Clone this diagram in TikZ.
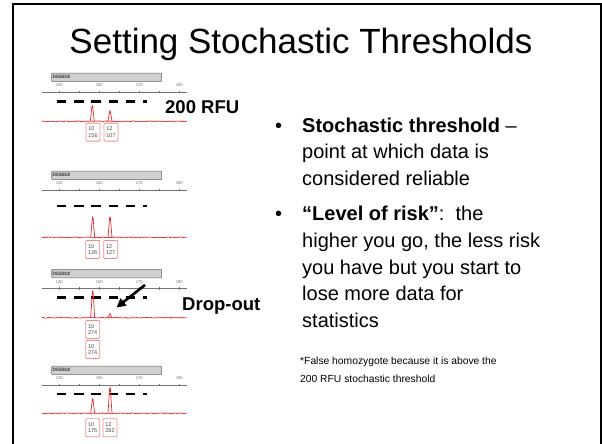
\documentclass[tikz,border=0pt]{standalone}
\usepackage{fontspec}
\setmainfont{Liberation Sans}
\usetikzlibrary{arrows.meta}

\definecolor{tracered}{RGB}{230,45,45}
\definecolor{boxred}{RGB}{240,140,140}
\definecolor{bargray}{RGB}{208,208,208}

\tikzset{
  trace/.style={tracered, line width=0.7pt, line join=round},
  threshold/.style={line width=2.4pt, dash pattern=on 9.5pt off 7.8pt},
  locus/.style={draw=black!60, fill=bargray, line width=0.5pt, rounded corners=0.8pt},
  sizes/.style={font=\fontsize{4.2}{5}\selectfont, text=black!55, inner sep=0pt},
  allele/.style={draw=boxred, line width=0.8pt, rounded corners=1pt, fill=white,
    inner sep=0.8pt, minimum width=14pt, minimum height=18pt, align=left,
    anchor=north, font=\fontsize{5.5}{6.5}\selectfont, text=black!70},
  item/.style={anchor=base west, inner sep=0pt, align=left,
    font=\fontsize{20}{26.8}\selectfont},
  callout/.style={anchor=base west, inner sep=0pt, font=\fontsize{18.5}{20}\selectfont\bfseries},
}

% one peak of the trace: x, baseline, top
\newcommand{\spike}[3]{\draw [trace] ({#1-2},{#2}) -- ({#1-0.4},{#3+1.5}) -- ({#1},{#3})
  -- ({#1+0.4},{#3+1.5}) -- ({#1+2},{#2});}

\begin{document}
\begin{tikzpicture}[x=1pt,y=-1pt]
    \useasboundingbox (0,0) rectangle (602,444);
    \pgfmathsetseed{7}

    % Slide frame
    \draw [line width=2pt] (13,444) -- (13,4) -- (601,4) -- (601,444);

    % Title
    \node [inner sep=0pt, anchor=base, font=\fontsize{35}{40}\selectfont] (title)
        at (301,53) {Setting Stochastic Thresholds};

    % Electropherograms: axis line, threshold line, baseline
    \foreach \ax/\thr/\base in {92/101.3/121.3, 190/205.7/237.3,
                               288.3/297.3/317.7, 385/394/413.3} {
        \draw [locus] (51.7,\ax-19) rectangle (161.7,\ax-10.5);
        \node [anchor=west, inner sep=0pt, font=\fontsize{4.8}{5}\selectfont\bfseries,
            text=black!80] at (52.5,\ax-14.7) {D5S818};
        \node [sizes] at (59.3,\ax-6.5) {130};
        \node [sizes] at (99.3,\ax-6.5) {150};
        \node [sizes] at (139.3,\ax-6.5) {170};
        \node [sizes] at (179.3,\ax-6.5) {190};
        \draw [black!55, line width=0.5pt] (41.7,\ax) -- (186.7,\ax);
        \foreach \t in {59.3,79.3,...,179.3}
            \draw [black!55, line width=0.5pt] (\t,\ax-1.3) -- (\t,\ax+1.3);
        \draw [threshold] (56.7,\thr) -- (146.5,\thr);
        \draw [trace] plot [domain=41.7:186.7, samples=140]
            (\x, {\base + 0.5*rand});
    }

    % Peaks
    \spike{92.3}{121.3}{105.3}
    \spike{110}{121.3}{110.3}
    \spike{92.7}{237.3}{216.7}
    \spike{110}{237.3}{216.7}
    \spike{92.7}{317.7}{290.7}
    \spike{110}{317.7}{313}
    \spike{92.7}{413.3}{398.3}
    \spike{110}{413.3}{387.3}

    % Allele calls
    \node [allele] (a1) at (93,122.7) {10\\156};
    \node [allele] (b1) at (111,122.7) {12\\107};
    \node [allele] (a2) at (92.7,240) {10\\126};
    \node [allele] (b2) at (110.7,240) {12\\127};
    \node [allele] (a3) at (92.7,320) {10\\274};
    \node [allele] (b3) at (92.7,340) {10\\274};
    \node [allele] (a4) at (92.7,418.3) {10\\175};
    \node [allele] (b4) at (110,418.3) {12\\282};

    % Callouts
    \node [callout] (rfu) at (165,113) {200 RFU};
    \node [callout] (dropout) at (182,310) {Drop-out};
    \coordinate (tail) at (145,285);
    \coordinate (tip) at (116.5,307.5);
    \draw [line width=2.6pt, -{Triangle[length=9pt,width=9pt]}] (tail) -- (tip);

    % Bullets (a multi-line node sits on its last baseline)
    \node [item] (dot1) at (275,132) {•};
    \node [item] (stoch) at (302,185.6) {\textbf{Stochastic threshold} –\\
        point at which data is\\considered reliable};
    \node [item] (dot2) at (275,220.5) {•};
    \node [item] (risk) at (302,327.7) {\textbf{“Level of risk”}:\ \ the\\
        higher you go, the less risk\\you have but you start to\\
        lose more data for\\statistics};

    % Footnote
    \node [anchor=base west, inner sep=0pt, align=left,
        font=\fontsize{10.3}{18}\selectfont] (note) at (300,382.5)
        {*False homozygote because it is above the\\200 RFU stochastic threshold};
\end{tikzpicture}
\end{document}
